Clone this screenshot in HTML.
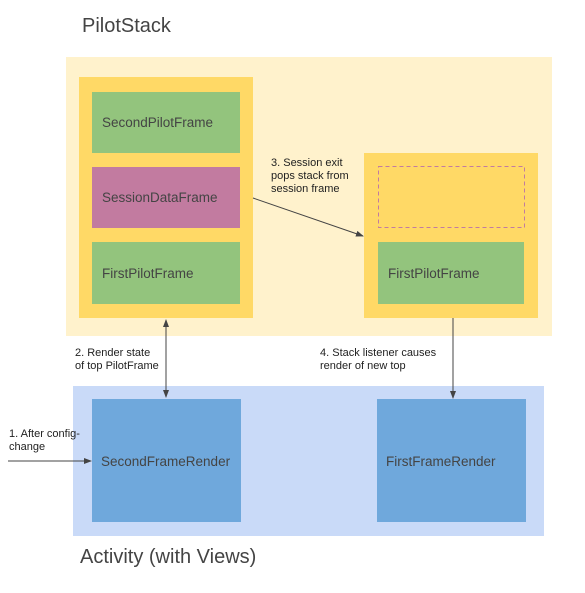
<!DOCTYPE html>
<html><head><meta charset="utf-8"><style>
html,body{margin:0;padding:0;background:#fff;}
svg{display:block;font-family:"Liberation Sans",Arial,sans-serif;}
</style></head><body>
<svg width="585" height="593" viewBox="0 0 585 593" xmlns="http://www.w3.org/2000/svg">
<defs>
<marker id="ah" markerWidth="8" markerHeight="8" refX="7" refY="4" orient="auto-start-reverse" markerUnits="userSpaceOnUse">
<path d="M0,1 L8,4 L0,7 z" fill="#444"/>
</marker>
</defs>
<text x="82" y="32" font-size="20" fill="#444">PilotStack</text>
<rect x="66" y="57" width="486" height="279" fill="#fff2cc"/>
<rect x="79" y="77" width="174" height="241" fill="#ffd966"/>
<rect x="92" y="92" width="148" height="61" fill="#93c47d"/>
<rect x="92" y="167" width="148" height="61" fill="#c27ba0"/>
<rect x="92" y="242" width="148" height="62" fill="#93c47d"/>
<text x="102" y="127" font-size="13.5" fill="#444">SecondPilotFrame</text>
<text x="102" y="202" font-size="13.5" fill="#444">SessionDataFrame</text>
<text x="102" y="278" font-size="13.5" fill="#444">FirstPilotFrame</text>
<rect x="364" y="153" width="174" height="165" fill="#ffd966"/>
<rect x="378.5" y="166.5" width="146" height="61" fill="none" stroke="#c27ba0" stroke-dasharray="4,3"/>
<rect x="378" y="242" width="146" height="62" fill="#93c47d"/>
<text x="388" y="278" font-size="13.5" fill="#444">FirstPilotFrame</text>
<text x="271" y="166" font-size="11" fill="#222">3. Session exit</text>
<text x="271" y="179" font-size="11" fill="#222">pops stack from</text>
<text x="271" y="192" font-size="11" fill="#222">session frame</text>
<line x1="253" y1="198" x2="363" y2="236" stroke="#444" stroke-width="1" marker-end="url(#ah)"/>
<rect x="73" y="386" width="471" height="150" fill="#c9daf8"/>
<rect x="92" y="399" width="149" height="123" fill="#6fa8dc"/>
<rect x="377" y="399" width="149" height="123" fill="#6fa8dc"/>
<text x="101" y="466" font-size="13.5" fill="#444">SecondFrameRender</text>
<text x="386" y="466" font-size="13.5" fill="#444">FirstFrameRender</text>
<text x="75" y="356" font-size="11" fill="#222">2. Render state</text>
<text x="75" y="369" font-size="11" fill="#222">of top PilotFrame</text>
<line x1="166" y1="320" x2="166" y2="397" stroke="#444" stroke-width="1" marker-start="url(#ah)" marker-end="url(#ah)"/>
<text x="320" y="356" font-size="11" fill="#222">4. Stack listener causes</text>
<text x="320" y="369" font-size="11" fill="#222">render of new top</text>
<line x1="453" y1="318" x2="453" y2="398" stroke="#444" stroke-width="1" marker-end="url(#ah)"/>
<text x="9" y="437" font-size="11" fill="#222">1. After config-</text>
<text x="9" y="450" font-size="11" fill="#222">change</text>
<line x1="8" y1="461" x2="91" y2="461" stroke="#444" stroke-width="1" marker-end="url(#ah)"/>
<text x="80" y="563" font-size="20" fill="#444">Activity (with Views)</text>
</svg>
</body></html>
